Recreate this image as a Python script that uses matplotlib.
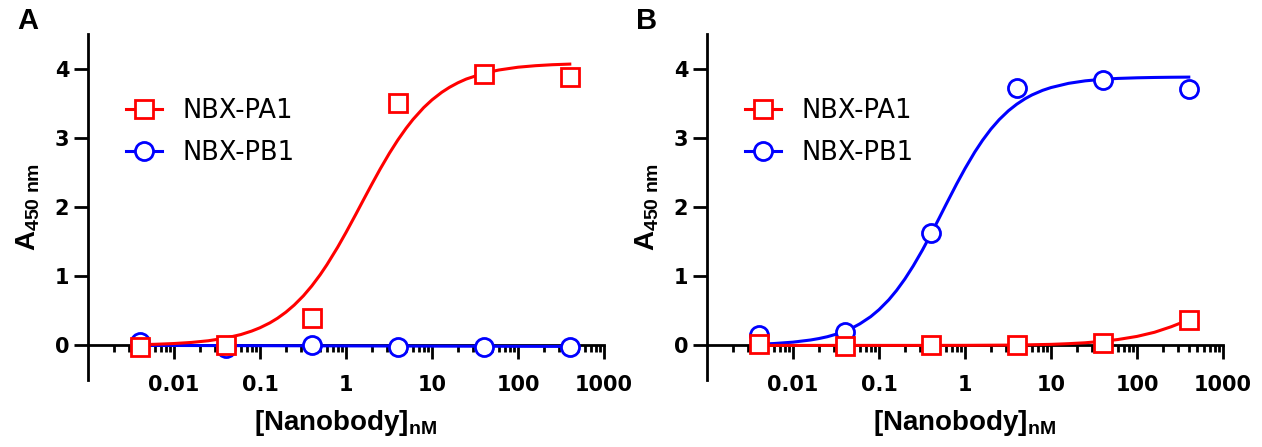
import matplotlib
matplotlib.use("Agg")
import matplotlib.pyplot as plt
from matplotlib.lines import Line2D

plt.rcParams["font.family"] = "DejaVu Sans"
plt.rcParams["mathtext.fontset"] = "custom"
plt.rcParams["mathtext.rm"] = "Liberation Sans"
plt.rcParams["mathtext.bf"] = "Liberation Sans:bold"
plt.rcParams["mathtext.it"] = "Liberation Sans:italic"

RED = "#ff0000"
BLUE = "#0000ff"

# measured points (nM)
conc = [0.004, 0.04, 0.4, 4, 40, 400]

a_pa1 = [-0.02, 0.0, 0.40, 3.50, 3.92, 3.88]
a_pb1 = [0.05, -0.04, 0.0, -0.02, -0.02, -0.02]
b_pa1 = [0.02, -0.01, 0.0, 0.0, 0.03, 0.37]
b_pb1 = [0.15, 0.20, 1.62, 3.72, 3.83, 3.70]

# fitted curves
a_pa1_fit_x = [0.004, 0.006, 0.01, 0.016, 0.025, 0.04, 0.06, 0.08, 0.1, 0.13, 0.16,
               0.2, 0.25, 0.32, 0.4, 0.5, 0.6, 0.8, 1, 1.3, 1.6, 2, 2.5, 3.2, 4,
               5, 6, 8, 10, 13, 16, 20, 25, 40, 60, 100, 160, 250, 400]
a_pa1_fit = [0.011, 0.016, 0.027, 0.043, 0.067, 0.106, 0.157, 0.207, 0.255, 0.325,
             0.393, 0.48, 0.583, 0.717, 0.859, 1.02, 1.166, 1.419, 1.632, 1.894,
             2.106, 2.331, 2.55, 2.778, 2.967, 3.138, 3.264, 3.436, 3.548, 3.658,
             3.73, 3.795, 3.849, 3.933, 3.98, 4.02, 4.042, 4.056, 4.065]
b_pb1_fit_x = [0.004, 0.006, 0.01, 0.016, 0.02, 0.025, 0.032, 0.04, 0.05, 0.06,
               0.08, 0.1, 0.13, 0.16, 0.2, 0.25, 0.32, 0.4, 0.5, 0.6, 0.8, 1, 1.3,
               1.6, 2, 2.5, 3.2, 4, 5, 6, 8, 10, 16, 25, 40, 60, 100, 160, 250, 400]
b_pb1_fit = [0.017, 0.027, 0.047, 0.078, 0.099, 0.125, 0.163, 0.205, 0.259, 0.312,
             0.415, 0.516, 0.659, 0.794, 0.96, 1.148, 1.378, 1.604, 1.838, 2.033,
             2.334, 2.555, 2.795, 2.964, 3.125, 3.263, 3.391, 3.486, 3.565, 3.619,
             3.686, 3.726, 3.787, 3.823, 3.846, 3.858, 3.867, 3.872, 3.875, 3.877]
a_pb1_fit_x = [0.004, 400]
a_pb1_fit = [0.0, -0.015]
b_pa1_fit_x = [0.004, 0.04, 0.4, 1, 4, 10, 16, 25, 40, 60, 100, 160, 250, 400]
b_pa1_fit = [0.0, 0.0, 0.0, 0.001, 0.005, 0.015, 0.025, 0.038, 0.06, 0.085, 0.13,
             0.19, 0.27, 0.37]

xticks = [0.01, 0.1, 1, 10, 100, 1000]
xticklabels = ["0.01", "0.1", "1", "10", "100", "1000"]
yticks = [0, 1, 2, 3, 4]
labels = ["NBX-PA1", "NBX-PB1"]

W, H = 1262, 447
fig = plt.figure(figsize=(W / 100, H / 100), dpi=100)

lw = 2.2
ms_sq = 12.5
ms_ci = 13
mew = 2.0


def panel(left_px, letter, pa1, pb1, pa1_fx, pa1_f, pb1_fx, pb1_f):
    ax = fig.add_axes([left_px / W, (H - 380) / H, 516 / W, 346 / H])
    ax.plot(pb1_fx, pb1_f, color=BLUE, lw=lw, zorder=3)
    ax.plot(pa1_fx, pa1_f, color=RED, lw=lw, zorder=3)
    ax.plot(conc, pb1, "o", ms=ms_ci, mew=mew, mec=BLUE, mfc="white", zorder=4,
            clip_on=False)
    ax.plot(conc, pa1, "s", ms=ms_sq, mew=mew, mec=RED, mfc="white", zorder=5,
            clip_on=False)

    ax.set_xscale("log")
    ax.set_xlim(0.001, 1000)
    ax.set_ylim(-0.5, 4.5)
    ax.spines["top"].set_visible(False)
    ax.spines["right"].set_visible(False)
    ax.spines["bottom"].set_position(("data", 0))
    for s in ("left", "bottom"):
        ax.spines[s].set_linewidth(2)
    ax.set_xticks(xticks)
    ax.set_xticklabels(xticklabels)
    ax.set_yticks(yticks)
    ax.tick_params(axis="both", which="major", direction="out", length=10,
                   width=2, labelsize=15)
    ax.tick_params(axis="x", which="minor", direction="out", length=5, width=2)
    ax.tick_params(axis="x", which="major", pad=11)
    for t in ax.get_xticklabels() + ax.get_yticklabels():
        t.set_fontweight("bold")

    ax.set_xlabel(r"$\mathbf{[Nanobody]_{nM}}$", fontsize=20)
    ax.xaxis.set_label_coords(0.5, -0.08)
    ax.set_ylabel(r"$\mathbf{A_{450\ nm}}$", fontsize=20)
    ax.yaxis.set_label_coords(-0.09, 0.5)

    handles = [
        Line2D([], [], color=RED, lw=lw, marker="s", ms=ms_sq, mew=mew,
               mec=RED, mfc="white"),
        Line2D([], [], color=BLUE, lw=lw, marker="o", ms=ms_ci, mew=mew,
               mec=BLUE, mfc="white"),
    ]
    ax.legend(handles, labels, loc="center left", frameon=False, fontsize=18.5,
              bbox_to_anchor=((left_px + 38) / W, 1 - 132 / H),
              bbox_transform=fig.transFigure, borderpad=0, borderaxespad=0,
              handlelength=1.4, handletextpad=0.8, labelspacing=0.6)

    fig.text((left_px - 60) / W, 1 - 21 / H, letter, fontsize=21,
             fontweight="bold", ha="center", va="center",
             family="Liberation Sans")
    return ax


panel(88, "A", a_pa1, a_pb1, a_pa1_fit_x, a_pa1_fit, a_pb1_fit_x, a_pb1_fit)
panel(707, "B", b_pa1, b_pb1, b_pa1_fit_x, b_pa1_fit, b_pb1_fit_x, b_pb1_fit)

fig.savefig("out.png", dpi=100)
